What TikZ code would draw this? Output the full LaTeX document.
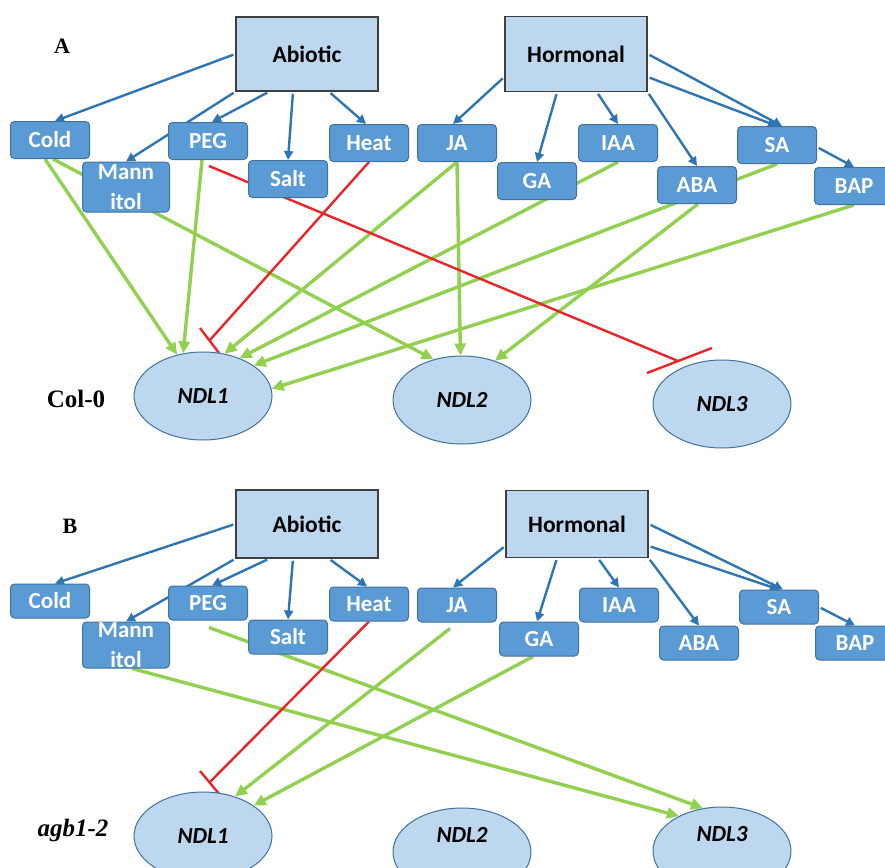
\documentclass[tikz,border=0pt]{standalone}
\usepackage{fontspec}
\setmainfont{Carlito}
\newfontfamily\tnr{Liberation Serif}
\usetikzlibrary{arrows.meta,shapes.geometric,calc}
\pgfdeclarelayer{bg}
\pgfsetlayers{bg,main}
\definecolor{boxblue}{HTML}{5B9BD5}
\definecolor{boxedge}{HTML}{41719C}
\definecolor{lightb}{HTML}{BDD7EE}
\definecolor{arrblue}{HTML}{2E75B6}
\definecolor{grn}{HTML}{92D050}
\definecolor{rd}{HTML}{E8262A}
\definecolor{dgray}{HTML}{3F3F3F}
\begin{document}
\begin{tikzpicture}[x=1pt,y=-1pt,
 big/.style={draw=dgray, line width=1.5pt, fill=lightb, minimum width=142pt, inner sep=0pt, font=\fontsize{23.5}{27}\selectfont\bfseries},
 sm/.style={draw=boxedge, line width=1pt, fill=boxblue, rounded corners=4pt, minimum width=79pt, minimum height=37pt, inner sep=0pt, text=white, font=\fontsize{23}{30}\selectfont\bfseries, align=center},
 smb/.style={sm, minimum height=34pt},
 ndl/.style={ellipse, draw=boxedge, line width=1pt, fill=lightb, minimum width=138pt, minimum height=88pt, inner sep=0pt, font=\fontsize{23}{26}\selectfont\bfseries\itshape},
 raised/.style={text height=16pt, text depth=35pt},
 barr/.style={draw=arrblue, line width=2.4pt, shorten <=2pt, -{Triangle[length=9pt,width=9pt]}},
 garr/.style={draw=grn, line width=3.4pt, -{Triangle[length=12pt,width=11pt]}},
 redl/.style={draw=rd, line width=2.4pt},
 panel/.style={font=\tnr\fontsize{22}{26}\selectfont\bfseries},
 strain/.style={font=\tnr\fontsize{25}{28}\selectfont\bfseries}
]
\useasboundingbox (0,0) rectangle (885,867);

% ---------------- Panel A ----------------
\node[panel] (labA) at (62,46) {A};
\node[strain] (col) at (76,399) {Col-0};
\node[big, minimum height=74pt] (abA) at (307,54) {Abiotic};
\node[big, minimum height=75pt] (hoA) at (576,54) {Hormonal};
\node[sm] (coldA) at (50,140) {Cold};
\node[sm] (pegA) at (208,141) {PEG};
\node[sm, minimum width=87pt, minimum height=50pt] (manA) at (126,187) {Mann\\itol};
\node[sm] (saltA) at (288,179) {Salt};
\node[sm] (heatA) at (369,143) {Heat};
\node[sm] (jaA) at (457,143) {JA};
\node[sm] (gaA) at (537,181) {GA};
\node[sm] (iaaA) at (618,143) {IAA};
\node[sm] (abaA) at (697,185) {ABA};
\node[sm] (saA) at (777,145) {SA};
\node[sm] (bapA) at (854,186) {BAP};
\node[ndl] (n1A) at (203,396) {NDL1};
\node[ndl] (n2A) at (462,400) {NDL2};
\node[ndl] (n3A) at (722,404) {NDL3};
\coordinate (hA) at (210,340);
\coordinate (pA) at (678,361);

% ---------------- Panel B ----------------
\node[panel] (labB) at (70,526) {B};
\node[strain, font=\tnr\fontsize{25}{28}\selectfont\bfseries\itshape] (agb) at (73,830) {agb1-2};
\node[big, minimum height=68pt] (abB) at (307,524) {Abiotic};
\node[big, minimum height=67pt] (hoB) at (577,524) {Hormonal};
\node[smb] (coldB) at (50,601) {Cold};
\node[smb] (pegB) at (208,603) {PEG};
\node[smb, minimum width=87pt, minimum height=46pt] (manB) at (126,645) {Mann\\itol};
\node[smb] (saltB) at (288,637) {Salt};
\node[smb] (heatB) at (369,604) {Heat};
\node[smb] (jaB) at (457,605) {JA};
\node[smb] (gaB) at (539,639) {GA};
\node[smb] (iaaB) at (619,605) {IAA};
\node[smb] (abaB) at (699,643) {ABA};
\node[smb] (saB) at (779,607) {SA};
\node[smb] (bapB) at (855,643) {BAP};
\node[ndl] (n1B) at (203,836) {NDL1};
\node[ndl, raised] (n2B) at (462,852) {NDL2};
\node[ndl, raised] (n3B) at (722,851) {NDL3};
\coordinate (hB) at (210,782);

\begin{pgfonlayer}{bg}
% blue A
\draw[barr] (abA.west) -- ([xshift=5pt]coldA.north);
\draw[barr] (abA.south west) -- (manA.north);
\draw[barr] ([xshift=-38pt]abA.south) -- ([xshift=4pt]pegA.north);
\draw[barr] ([xshift=-14pt]abA.south) -- (saltA.north);
\draw[barr] ([xshift=22pt]abA.south) -- ([xshift=-3pt]heatA.north);
\draw[barr] ([yshift=-23pt]hoA.west) -- ([xshift=-4pt]jaA.north);
\draw[barr] ([xshift=-19pt]hoA.south) -- (gaA.north);
\draw[barr] ([xshift=21pt]hoA.south) -- (iaaA.north);
\draw[barr] (hoA.south east) -- (abaA.north);
\draw[barr] (hoA.east) -- ([xshift=5pt]saA.north);
\draw[barr] ([yshift=-23pt]hoA.east) -- (saA.north);
\draw[barr] ([yshift=-2pt]saA.east) -- (bapA.north);
% green A
\draw[garr] ([xshift=-5pt]coldA.south) -- (n1A.122);
\draw[garr] ([xshift=3pt]coldA.south) -- (n2A.125);
\draw[garr] ([xshift=-6pt]pegA.south) -- (n1A.115);
\draw[garr] (jaA.south) -- (n1A.63);
\draw[garr] (jaA.south) -- (n2A.92);
\draw[garr] (iaaA.south) -- (n1A.46);
\draw[garr] (saA.south) -- (n1A.31);
\draw[garr] ([xshift=1pt]abaA.south) -- (n2A.50);
\draw[garr] (bapA.south) -- (n1A.6);
% red A
\draw[redl] (heatA.south) -- (hA);
\draw[redl] ($(hA)+(-10,-12)$) -- ($(hA)+(9,13)$);
\draw[redl] ([shift={(1pt,-6pt)}]pegA.south) -- (pA);
\draw[redl] ($(pA)+(-31,12)$) -- ($(pA)+(34,-13)$);

% blue B
\draw[barr] (abB.west) -- ([xshift=5pt]coldB.north);
\draw[barr] (abB.south west) -- (manB.north);
\draw[barr] ([xshift=-38pt]abB.south) -- ([xshift=4pt]pegB.north);
\draw[barr] ([xshift=-14pt]abB.south) -- (saltB.north);
\draw[barr] ([xshift=22pt]abB.south) -- ([xshift=-2pt]heatB.north);
\draw[barr] ([yshift=-22pt]hoB.west) -- ([xshift=-4pt]jaB.north);
\draw[barr] ([xshift=-20pt]hoB.south) -- ([xshift=-2pt]gaB.north);
\draw[barr] ([xshift=21pt]hoB.south) -- (iaaB.north);
\draw[barr] (hoB.south east) -- (abaB.north);
\draw[barr] (hoB.east) -- ([xshift=4pt]saB.north);
\draw[barr] ([yshift=-22pt]hoB.east) -- (saB.north);
\draw[barr] (saB.east) -- (bapB.north);
% green B
\draw[garr] ([shift={(1pt,-7pt)}]pegB.south) -- (n3B.114);
\draw[garr] ([xshift=6pt]manB.south) -- (n3B.141);
\draw[garr] ([shift={(-7pt,-6pt)}]jaB.south) -- (n1B.51);
\draw[garr] ([xshift=-6pt]gaB.south) -- (n1B.31);
% red B
\draw[redl] (heatB.south) -- (hB);
\draw[redl] ($(hB)+(-10,-11)$) -- ($(hB)+(10,13)$);
\end{pgfonlayer}
\end{tikzpicture}
\end{document}
